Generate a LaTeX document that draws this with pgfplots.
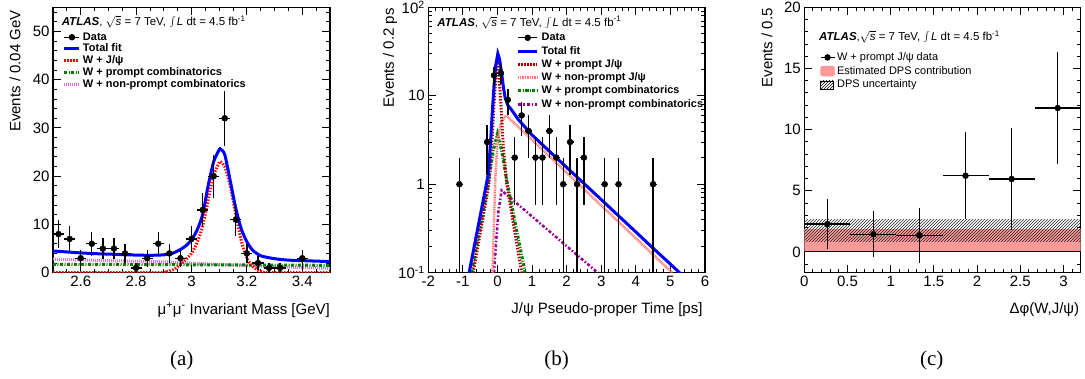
\documentclass[border=0pt]{standalone}
\usepackage{fontspec}
\setmainfont{Liberation Sans}
\newfontfamily\capfont{Liberation Serif}
\usepackage{pgfplots}
\pgfplotsset{compat=1.18}
\usetikzlibrary{patterns}
\definecolor{cgreen}{RGB}{0,125,0}
\definecolor{cviolet}{RGB}{214,120,214}
\definecolor{cdred}{RGB}{160,0,0}
\definecolor{csalmon}{RGB}{255,120,120}
\definecolor{cpurple}{RGB}{153,0,153}
\definecolor{cpink}{RGB}{255,153,153}

\pgfplotsset{
 rootstyle/.style={
  scale only axis, height=265.4pt, anchor=south west,
  axis line style={line width=1.1pt},
  tick align=inside,
  major tick length=8pt, minor tick length=4pt,
  tick style={black, line width=0.9pt},
  /pgf/number format/assume math mode=true,
  tick label style={font=\fontsize{15}{15}\selectfont},
  legend cell align=left,
 },
 datast/.style={black, only marks, mark=*, mark size=3pt,
  error bars/x dir=both, error bars/x explicit,
  error bars/y dir=both, error bars/y explicit,
  error bars/error bar style={line width=1.3pt, solid},
  error bars/error mark=none},
}
\newcommand{\atlas}[1]{\textbf{\textit{ATLAS}},#1$\sqrt{\mbox{\textit{s}}}$ = 7 TeV, {\fontsize{15}{15}\selectfont$\int$}\kern1pt\textit{L} dt = 4.5 fb\textsuperscript{-1}}

\begin{document}
\begin{tikzpicture}
\useasboundingbox (0,0) rectangle (1085pt,379pt);

% ---------------- panel (a)
\begin{axis}[rootstyle, at={(53pt,106.3pt)}, width=277pt,
  xmin=2.5, xmax=3.5, ymin=0, ymax=55,
  xtick={2.6,2.8,3,3.2,3.4}, minor xtick={2.5,2.55,...,3.5},
  ytick={0,10,...,50}, minor ytick={0,2,...,54},
  legend style={at={(axis description cs:0.036,0.906)}, anchor=north west, draw=none, fill=none,
    font=\bfseries\fontsize{11}{11}\selectfont, inner sep=0pt, outer sep=0pt,
    row sep=1.7pt, column sep=2pt, nodes={inner sep=0pt, text height=8pt, text depth=2pt}},
  legend image code/.code={\draw[mark repeat=2,mark phase=2,#1] plot coordinates {(0pt,0pt) (7.5pt,0pt) (15pt,0pt)};},
]
\addlegendimage{black, mark=*, mark size=2.7pt, line width=1pt}
\addlegendentry{Data}
\addlegendimage{blue, line width=3pt}
\addlegendentry{Total fit}
\addlegendimage{red, line width=3pt, dash pattern=on 1.5pt off 1.5pt}
\addlegendentry{W + J/ψ}
\addlegendimage{cgreen, line width=3pt, dash pattern=on 3pt off 1.5pt on 1pt off 1.5pt}
\addlegendentry{W + prompt combinatorics}
\addlegendimage{cviolet, line width=3pt, dash pattern=on 1pt off 1pt}
\addlegendentry{W + non-prompt combinatorics}

\addplot[forget plot, cviolet, line width=3pt, dash pattern=on 1pt off 1pt, smooth] coordinates {
(2.5,2.8) (2.7,2.5) (2.9,2.25) (3.1,1.7) (3.3,1.25) (3.5,0.9)};
\addplot[forget plot, cgreen, line width=3pt, dash pattern=on 3pt off 1.5pt on 1pt off 1.5pt] coordinates {
(2.5,1.75) (3.5,1.53)};
\addplot[forget plot, red, line width=3pt, dash pattern=on 1.5pt off 1.5pt, smooth, tension=0.4] coordinates {
(2.5,0) (2.88,0) (2.91,0.2) (2.94,0.8) (2.97,2.2) (3.00,4.0) (3.02,6.2) (3.04,9.6) (3.06,15.0) (3.08,20.2) (3.10,22.8) (3.105,23.0) (3.12,22.0) (3.14,18.0) (3.16,12.0) (3.18,6.6) (3.20,3.0) (3.22,1.4) (3.24,0.5) (3.26,0.1) (3.28,0) (3.5,0)};
\addplot[forget plot, blue, line width=3pt, smooth, tension=0.4] coordinates {
(2.50,4.5) (2.55,4.3) (2.60,4.1) (2.65,3.95) (2.70,3.85) (2.75,3.75) (2.80,3.65) (2.85,3.6) (2.90,3.7) (2.93,4.0) (2.96,4.8) (2.98,5.6) (3.00,6.8) (3.02,8.8) (3.04,12.0) (3.06,18.0) (3.08,23.0) (3.10,25.5) (3.105,25.6) (3.12,24.5) (3.14,19.0) (3.16,13.3) (3.18,9.0) (3.20,6.4) (3.22,4.7) (3.25,3.5) (3.30,2.9) (3.35,2.6) (3.40,2.5) (3.45,2.4) (3.50,2.3)};
\addplot[forget plot, datast] table[x=x, y=y, x error=ex, y error=ey] {
x y ex ey
2.52 8 0.02 2.83
2.56 7 0.02 2.65
2.60 3 0.02 1.73
2.64 6 0.02 2.45
2.68 5 0.02 2.24
2.72 5 0.02 2.24
2.76 4 0.02 2.0
2.80 1 0.02 1.0
2.84 3 0.02 1.73
2.88 6 0.02 2.45
2.92 4 0.02 2.0
2.96 3 0.02 1.73
3.00 7 0.02 2.65
3.04 13 0.02 3.61
3.08 20 0.02 4.47
3.12 32 0.02 5.66
3.16 11 0.02 3.32
3.20 4 0.02 2.0
3.24 2 0.02 1.41
3.28 1 0.02 1.0
3.32 1 0.02 1.0
3.40 3 0.02 1.73
};
\node[anchor=west, inner sep=0pt, font=\fontsize{11.5}{11.5}\selectfont] at (axis description cs:0.031,0.945) {\atlas{ }};
\end{axis}

% ---------------- panel (b)
\begin{axis}[rootstyle, at={(428.3pt,106.3pt)}, width=276.7pt,
  xmin=-2, xmax=6, ymin=0.1, ymax=100, ymode=log,
  xtick={-2,-1,...,6}, minor x tick num=4,
  ytick={0.1,1,10,100}, yticklabels={10\textsuperscript{-1},1,10,10\textsuperscript{2}},
  legend style={at={(axis description cs:0.3195,0.904)}, anchor=north west, draw=none, fill=none,
    font=\bfseries\fontsize{10.9}{10.9}\selectfont, inner sep=0pt, outer sep=0pt,
    row sep=3.3pt, column sep=3pt, nodes={inner sep=0pt, text height=8pt, text depth=2pt}},
  legend image code/.code={\draw[mark repeat=2,mark phase=2,#1] plot coordinates {(0pt,0pt) (9.5pt,0pt) (19pt,0pt)};},
]
\addlegendimage{black, mark=*, mark size=2.7pt, line width=1pt}
\addlegendentry{Data}
\addlegendimage{blue, line width=3pt}
\addlegendentry{Total fit}
\addlegendimage{cdred, line width=3pt, dash pattern=on 1.5pt off 1.5pt}
\addlegendentry{W + prompt J/ψ}
\addlegendimage{csalmon, line width=2.5pt, dash pattern=on 1pt off 0.7pt}
\addlegendentry{W + non-prompt J/ψ}
\addlegendimage{cgreen, line width=3pt, dash pattern=on 3pt off 1.5pt on 1pt off 1.5pt}
\addlegendentry{W + prompt combinatorics}
\addlegendimage{cpurple, line width=2.5pt, dash pattern=on 3pt off 2pt on 1.5pt off 2pt}
\addlegendentry{W + non-prompt combinatorics}

\addplot[forget plot, cpurple, line width=2.5pt, dash pattern=on 3pt off 2pt on 1.5pt off 2pt] coordinates {
(-0.1,0.1) (-0.03,0.25) (0.03,0.5) (0.12,0.85) (2.9,0.1)};
\addplot[forget plot, cgreen, line width=3pt, dash pattern=on 3pt off 1.5pt on 1pt off 1.5pt] coordinates {
(-0.75,0.1) (-0.27,1) (-0.12,2.4) (0,3.7) (0.12,2.4) (0.27,1.1) (0.8,0.1)};
\addplot[forget plot, csalmon, line width=2.5pt, dash pattern=on 1pt off 0.7pt] coordinates {
(-0.14,0.1) (-0.1,0.4) (-0.06,1.2) (0,3) (0.1,5) (0.25,6.0) (5.05,0.1)};
\addplot[forget plot, cdred, line width=3pt, dash pattern=on 1.5pt off 1.5pt] coordinates {
(-0.7,0.1) (-0.25,1) (-0.17,2.6) (-0.1,8) (-0.04,18) (0,23) (0.04,18) (0.1,8) (0.17,2.6) (0.27,1) (0.7,0.1)};
\addplot[forget plot, blue, line width=3pt] coordinates {
(-0.82,0.1) (-0.265,1.3) (-0.2,3) (-0.15,6.5) (-0.1,13) (-0.05,22) (0.01,30) (0.06,26) (0.12,18) (0.17,12.6) (0.22,9.6) (0.3,7.8) (0.4,7.0) (0.6,5.4) (1.0,3.6) (1.5,2.36) (2.0,1.55) (2.5,1.02) (3.0,0.67) (3.5,0.44) (4.0,0.289) (4.5,0.189) (5.0,0.125) (5.3,0.097)};
\addplot[forget plot, datast, error bars/y explicit] table[x=x, y=y, x error=ex, y error plus=ep, y error minus=em] {
x y ex ep em
-1.1 1 0.1 1 0.999
-0.3 3 0.1 1.73 1.73
-0.1 17 0.1 4.12 4.12
0.1 18 0.1 4.24 4.24
0.3 9 0.1 3 3
0.5 2 0.1 1.41 1.41
0.7 6 0.1 2.45 2.45
0.9 4 0.1 2 2
1.1 2 0.1 1.41 1.41
1.3 2 0.1 1.41 1.41
1.5 4 0.1 2 2
1.7 2 0.1 1.41 1.41
1.9 1 0.1 1 0.999
2.1 3 0.1 1.73 1.73
2.3 1 0.1 1 0.999
2.5 2 0.1 1.41 1.41
3.1 1 0.1 1 0.999
3.5 1 0.1 1 0.999
4.5 1 0.1 1 0.999
};
\node[anchor=west, inner sep=0pt, font=\fontsize{11.5}{11.5}\selectfont] at (axis description cs:0.0325,0.943) {\atlas{ }};
\end{axis}

% ---------------- panel (c)
\begin{axis}[rootstyle, at={(804.3pt,106.3pt)}, width=276.4pt,
  xmin=0, xmax=3.2, ymin=-1.7, ymax=20,
  xtick={0,0.5,...,3}, minor xtick={0,0.1,...,3.2},
  ytick={0,5,...,20}, minor ytick={-1,0,...,20},
  legend style={at={(axis description cs:0.057,0.830)}, anchor=north west, draw=none, fill=none,
    font=\fontsize{11}{11}\selectfont, inner sep=0pt, outer sep=0pt,
    row sep=3.5pt, column sep=2pt, nodes={inner sep=0pt, text height=8pt, text depth=2pt}},
  legend image code/.code={\draw[mark repeat=2,mark phase=2,#1] plot coordinates {(0pt,0pt) (7pt,0pt) (14pt,0pt)};},
]
\addlegendimage{black, mark=*, mark size=2.7pt, line width=1pt}
\addlegendentry{W + prompt J/ψ data}
\addlegendimage{legend image code/.code={\fill[cpink, rounded corners=2pt] (0pt,-5pt) rectangle (14pt,5pt);}}
\addlegendentry{Estimated DPS contribution}
\addlegendimage{legend image code/.code={\draw[black, line width=0.5pt, pattern=north east lines] (0pt,-4pt) rectangle (13pt,4pt);}}
\addlegendentry{DPS uncertainty}

\addplot[forget plot, fill=cpink, draw=none] coordinates {(0,0) (0,1.86) (3.2,1.86) (3.2,0)} -- cycle;
\addplot[forget plot, draw=none, pattern=north east lines, pattern color=black!85] coordinates {(0,0.89) (0,2.62) (3.2,2.62) (3.2,0.89)} -- cycle;
\addplot[forget plot, black, line width=1pt] coordinates {(0,0) (3.2,0)};
\addplot[forget plot, datast] table[x=x, y=y, x error=ex, y error=ey] {
x y ex ey
0.2667 2.27 0.2667 2.02
0.8 1.44 0.2667 1.88
1.3333 1.36 0.2667 2.25
1.8667 6.23 0.2667 3.56
2.4 5.96 0.2667 4.13
2.9333 11.76 0.2667 4.55
};
\node[anchor=west, inner sep=0pt, font=\fontsize{11.5}{11.5}\selectfont] at (axis description cs:0.0532,0.888) {\atlas{}};
\end{axis}

% axis labels
\node[rotate=90, anchor=east, inner sep=0pt, font=\fontsize{15}{15}\selectfont] at (15pt,369pt) {Events / 0.04 GeV};
\node[rotate=90, anchor=east, inner sep=0pt, font=\fontsize{15}{15}\selectfont] at (390pt,371pt) {Events / 0.2 ps};
\node[rotate=90, anchor=east, inner sep=0pt, font=\fontsize{15}{15}\selectfont] at (767pt,371pt) {Events / 0.5};
\node[anchor=east, inner sep=0pt, font=\fontsize{15}{15}\selectfont] at (330pt,69pt) {μ\textsuperscript{+}μ\textsuperscript{-} Invariant Mass [GeV]};
\node[anchor=east, inner sep=0pt, font=\fontsize{15}{15}\selectfont] at (702.7pt,69pt) {J/ψ Pseudo-proper Time [ps]};
\node[anchor=east, inner sep=0pt, font=\fontsize{15}{15}\selectfont] at (1079.3pt,69pt) {Δφ(W,J/ψ)};
% captions
\node[font=\capfont\fontsize{21}{21}\selectfont] at (181.7pt,19pt) {(a)};
\node[font=\capfont\fontsize{21}{21}\selectfont] at (556.7pt,19pt) {(b)};
\node[font=\capfont\fontsize{21}{21}\selectfont] at (931.7pt,19pt) {(c)};
\end{tikzpicture}
\end{document}
